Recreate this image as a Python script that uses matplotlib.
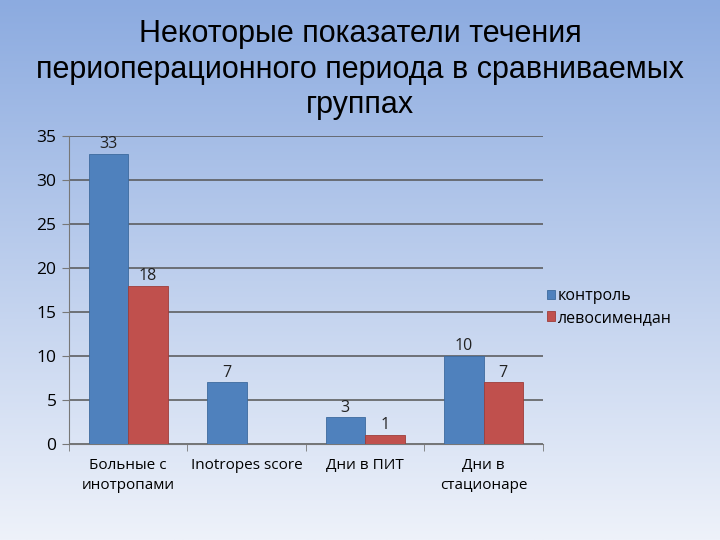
import matplotlib.pyplot as plt
import numpy as np

categories = ['Больные с\nинотропами', 'Inotropes score', 'Дни в ПИТ', 'Дни в\nстационаре']
control = [33, 7, 3, 10]
levosimendan = [18, None, 1, 7]
series_names = ['контроль', 'левосимендан']
yticks = [0, 5, 10, 15, 20, 25, 30, 35]

blue = '#4F81BD'
red = '#C0504D'

fig = plt.figure(figsize=(7.2, 5.4), dpi=100)

# background gradient
bg = fig.add_axes([0, 0, 1, 1], zorder=-10)
top = np.array([140, 171, 224]) / 255
bot = np.array([238, 242, 250]) / 255
t = np.linspace(0, 1, 256)[:, None]
grad = top * (1 - t) + bot * t
bg.imshow(grad[:, None, :].repeat(2, axis=1), aspect='auto', extent=[0, 1, 0, 1])
bg.axis('off')

ax = fig.add_axes([0.0958, 0.178, 0.658, 0.570])
ax.patch.set_alpha(0)

x = np.arange(len(categories))
w = 1 / 3
ax.bar(x - w / 2, control, w, color=blue, edgecolor='#3d6a9e', linewidth=0.6, label=series_names[0], zorder=3)
lv = [np.nan if v is None else v for v in levosimendan]
ax.bar(x + w / 2, lv, w, color=red, edgecolor='#9e3d3a', linewidth=0.6, label=series_names[1], zorder=3)

lab_font = dict(fontsize=11.5, family='Open Sans', ha='center', va='bottom', color='#222222')
for i, v in enumerate(control):
    ax.text(x[i] - w / 2, v + 0.2, str(v), **lab_font)
for i, v in enumerate(levosimendan):
    if v is not None:
        ax.text(x[i] + w / 2, v + 0.2, str(v), **lab_font)

ax.set_xlim(-0.5, len(categories) - 0.5)
ax.set_ylim(0, 35)
ax.set_yticks(yticks)
ax.yaxis.grid(True, color='#555555', linewidth=1.1, zorder=0)
ax.set_axisbelow(True)
for s in ['top', 'right']:
    ax.spines[s].set_visible(False)
ax.spines['left'].set_color('#777777')
ax.spines['bottom'].set_color('#777777')
ax.tick_params(axis='y', length=5, color='#777777', labelsize=12.5, pad=4)
ax.set_xticks(x)
ax.set_xticklabels(categories, fontsize=11, family='Open Sans', linespacing=1.45)
ax.tick_params(axis='x', length=0, pad=10)
ax.set_xticks(np.arange(-0.5, len(categories)), minor=True)
ax.tick_params(axis='x', which='minor', length=5, color='#777777')
for lbl in ax.get_yticklabels():
    lbl.set_family('Open Sans')

leg = ax.legend(loc='center left', bbox_to_anchor=(0.995, 0.445), frameon=False,
                prop={'family': 'Open Sans', 'size': 11.5}, handlelength=0.5,
                handleheight=0.5, handletextpad=0.2, labelspacing=0.35, borderaxespad=0.0)

fig.text(0.5, 0.964, 'Некоторые показатели течения\nпериоперационного периода в сравниваемых\nгруппах',
         ha='center', va='top', fontsize=22, family=['Liberation Sans Narrow', 'Liberation Sans'],
         linespacing=1.24)

fig.savefig('out.png', dpi=100)
